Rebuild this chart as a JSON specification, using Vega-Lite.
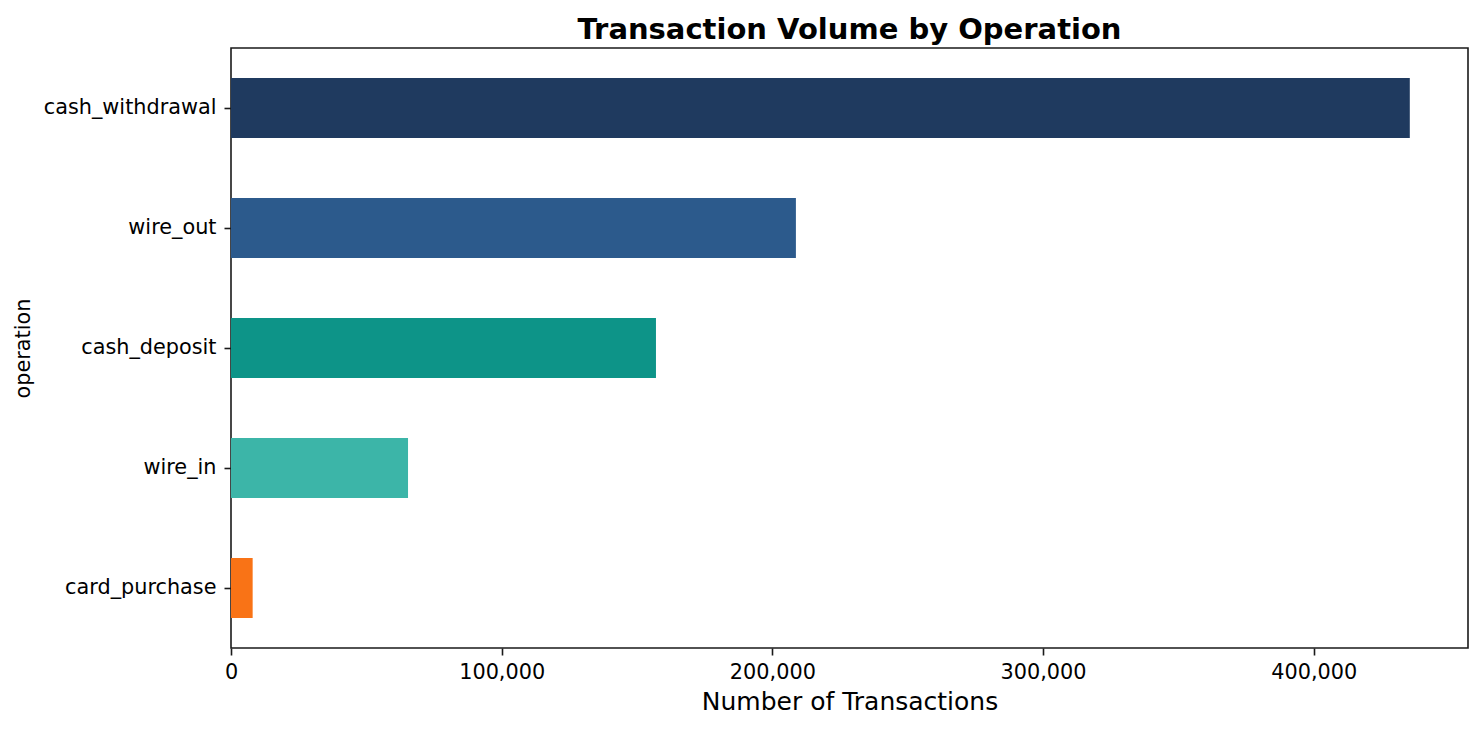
{
  "$schema": "https://vega.github.io/schema/vega-lite/v6.json",
  "autosize": {"type": "none"},
  "padding": {"left": 231, "top": 48, "right": 15, "bottom": 82},
  "width": 1237,
  "height": 600,
  "background": "white",
  "title": {
    "text": "Transaction Volume by Operation",
    "font": "DejaVu Sans",
    "fontSize": 29,
    "fontWeight": "bold",
    "color": "black",
    "baseline": "bottom",
    "offset": 2,
    "dy": 28,
    "anchor": "middle"
  },
  "config": {
    "view": {"stroke": "#1a1a1a", "strokeWidth": 1.6},
    "axis": {
      "labelFont": "DejaVu Sans",
      "titleFont": "DejaVu Sans",
      "labelColor": "black",
      "titleColor": "black",
      "domain": false,
      "grid": false,
      "tickColor": "#1a1a1a",
      "tickWidth": 1.6,
      "tickSize": 7,
      "labelPadding": 7,
      "titleFontWeight": "normal"
    }
  },
  "data": {
    "values": [
      {"operation": "cash_withdrawal", "count": 435500},
      {"operation": "wire_out", "count": 208700},
      {"operation": "cash_deposit", "count": 157000},
      {"operation": "wire_in", "count": 65400},
      {"operation": "card_purchase", "count": 8000}
    ]
  },
  "mark": {"type": "bar"},
  "encoding": {
    "y": {
      "field": "operation",
      "type": "nominal",
      "sort": ["cash_withdrawal", "wire_out", "cash_deposit", "wire_in", "card_purchase"],
      "scale": {"paddingInner": 0.5, "paddingOuter": 0.25},
      "axis": {
        "title": "operation",
        "labelFontSize": 20.8,
        "titleFontSize": 20.8,
        "labelPadding": 8,
        "titlePadding": 10
      }
    },
    "x": {
      "field": "count",
      "type": "quantitative",
      "scale": {"domain": [0, 457000], "nice": false, "zero": true},
      "axis": {
        "title": "Number of Transactions",
        "values": [0, 100000, 200000, 300000, 400000],
        "format": ",d",
        "labelFlush": false,
        "labelFontSize": 20.8,
        "titleFontSize": 25,
        "titlePadding": 8
      }
    },
    "color": {
      "field": "operation",
      "type": "nominal",
      "scale": {
        "domain": ["cash_withdrawal", "wire_out", "cash_deposit", "wire_in", "card_purchase"],
        "range": ["#1f3a5f", "#2c5a8c", "#0d9488", "#3cb5a8", "#f97316"]
      },
      "legend": null
    }
  }
}
